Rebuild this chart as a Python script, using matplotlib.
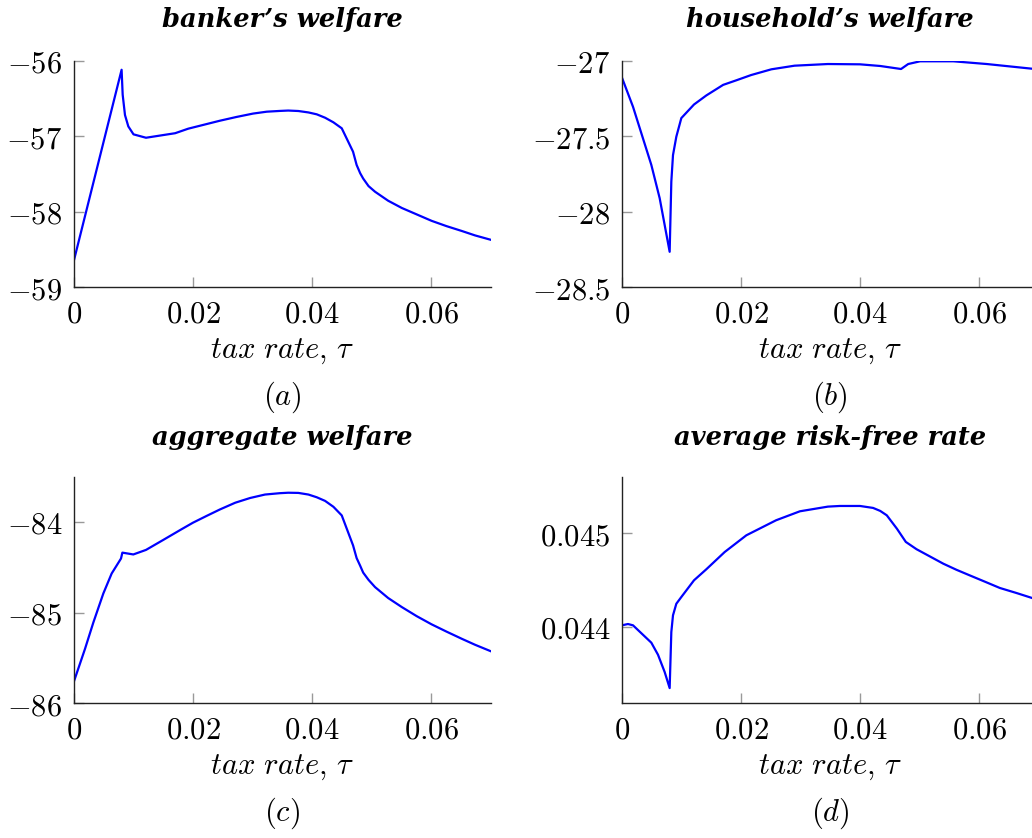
import matplotlib
matplotlib.use("Agg")
import matplotlib.pyplot as plt

plt.rcParams['mathtext.fontset'] = 'cm'
plt.rcParams['font.family'] = ['DejaVu Serif']

# ---------------- data ----------------
titles = ["banker\u2019s welfare", "household\u2019s welfare",
          "aggregate welfare", "average risk-free rate"]
panel_labels = [r"$(a)$", r"$(b)$", r"$(c)$", r"$(d)$"]
x_label = r"$tax\ rate,\,\tau$"

x_ticks = [0, 0.02, 0.04, 0.06]
x_tick_labels = [r"$0$", r"$0.02$", r"$0.04$", r"$0.06$"]

tau_a = [0.0, 0.002, 0.004, 0.006, 0.0080, 0.00818, 0.00857, 0.00913, 0.0100, 0.0121,
         0.0170, 0.0192, 0.0245, 0.0273, 0.0301, 0.0324, 0.0346, 0.0360, 0.0377, 0.0394,
         0.0408, 0.0422, 0.0436, 0.0450, 0.0469, 0.0475, 0.0481, 0.0486, 0.0495, 0.0506,
         0.0528, 0.0551, 0.0576, 0.0601, 0.0626, 0.0652, 0.0674, 0.0700]
banker = [-58.64, -58.01, -57.38, -56.75, -56.12, -56.45, -56.72, -56.87, -56.975, -57.02,
          -56.96, -56.90, -56.795, -56.745, -56.70, -56.675, -56.665, -56.66, -56.666, -56.685,
          -56.71, -56.755, -56.816, -56.895, -57.205, -57.38, -57.49, -57.56, -57.66, -57.735,
          -57.854, -57.95, -58.035, -58.12, -58.19, -58.255, -58.313, -58.37]
yticks_a = [-59, -58, -57, -56]
ylabels_a = [r"$-59$", r"$-58$", r"$-57$", r"$-56$"]

tau_b = [0.0, 0.00185, 0.00493, 0.00633, 0.00801, 0.00829, 0.00857, 0.00913, 0.00997,
         0.0121, 0.01417, 0.0170, 0.0192, 0.0217, 0.0251, 0.0290, 0.0346, 0.0400,
         0.0434, 0.0469, 0.0481, 0.0501, 0.0557, 0.0613, 0.0689, 0.0700]
household = [-27.113, -27.305, -27.69, -27.91, -28.265, -27.80, -27.625, -27.503, -27.38,
             -27.29, -27.23, -27.16, -27.13, -27.095, -27.057, -27.033, -27.022, -27.024,
             -27.035, -27.055, -27.022, -27.004, -27.004, -27.022, -27.053, -27.057]
yticks_b = [-28.5, -28, -27.5, -27]
ylabels_b = [r"$-28.5$", r"$-28$", r"$-27.5$", r"$-27$"]

tau_c = [0.0, 0.00185, 0.00325, 0.00493, 0.00633, 0.0079, 0.00813, 0.00997, 0.0121, 0.0150,
         0.0180, 0.0200, 0.0223, 0.0245, 0.0271, 0.0296, 0.0321, 0.0346, 0.0360, 0.0377,
         0.0394, 0.0408, 0.0422, 0.0436, 0.0450, 0.0469, 0.0475, 0.0481, 0.0486, 0.0495,
         0.0506, 0.0528, 0.0551, 0.0576, 0.0601, 0.0626, 0.0652, 0.0674, 0.0700]
aggregate = [-85.757, -85.40, -85.11, -84.79, -84.57, -84.405, -84.34, -84.36, -84.31, -84.20,
             -84.085, -84.01, -83.935, -83.865, -83.79, -83.738, -83.70, -83.685, -83.68, -83.682,
             -83.70, -83.73, -83.77, -83.835, -83.93, -84.26, -84.40, -84.485, -84.56, -84.64,
             -84.72, -84.84, -84.94, -85.04, -85.13, -85.21, -85.29, -85.355, -85.425]
yticks_c = [-86, -85, -84]
ylabels_c = [r"$-86$", r"$-85$", r"$-84$"]

tau_d = [0.0, 0.001, 0.00185, 0.00493, 0.00605, 0.00717, 0.00801, 0.00829, 0.00857,
         0.00913, 0.00997, 0.0121, 0.01417, 0.01726, 0.0209, 0.0259, 0.0299, 0.0346,
         0.0366, 0.0400, 0.0422, 0.0434, 0.0445, 0.0462, 0.0477, 0.0495, 0.0540, 0.0562,
         0.0584, 0.0610, 0.0635, 0.0663, 0.0689, 0.0700]
riskfree = [0.044015, 0.044029, 0.044015, 0.043829, 0.0437, 0.043515, 0.043343, 0.043943,
            0.044122, 0.044246, 0.044318, 0.044497, 0.044615, 0.0448, 0.044979, 0.04514,
            0.045236, 0.045286, 0.045293, 0.045293, 0.045272, 0.04524, 0.045193, 0.04505,
            0.044908, 0.04483, 0.044675, 0.04461, 0.044551, 0.044482, 0.044415, 0.044361,
            0.044308, 0.04428]
yticks_d = [0.044, 0.045]
ylabels_d = [r"$0.044$", r"$0.045$"]

panels = [
    (tau_a, banker, (-59, -56), yticks_a, ylabels_a),
    (tau_b, household, (-28.5, -27), yticks_b, ylabels_b),
    (tau_c, aggregate, (-86, -83.51), yticks_c, ylabels_c),
    (tau_d, riskfree, (0.04318, 0.0456), yticks_d, ylabels_d),
]

# ---------------- layout ----------------
W, H = 1032, 838
fig = plt.figure(figsize=(W / 100, H / 100), dpi=100)
fig.patch.set_facecolor("white")

ax_w = 416.5
lefts = [74, 622, 74, 622]
tops = [60.7, 60.7, 477.3, 477.3]
bottoms = [287.3, 287.3, 703.3, 703.3]
title_y = [20, 20, 437, 437]
label_y = [397, 397, 813, 813]
xlabel_y = [350, 350, 766, 766]

for i, (xs, ys, ylim, yt, yl) in enumerate(panels):
    l, t, b = lefts[i], tops[i], bottoms[i]
    ax = fig.add_axes([l / W, 1 - b / H, ax_w / W, (b - t) / H])
    ax.plot(xs, ys, color=(0, 0, 1), lw=1.6, solid_joinstyle="round")
    ax.set_xlim(0, 0.07)
    ax.set_ylim(*ylim)
    for s in ["top", "right"]:
        ax.spines[s].set_visible(False)
    for s in ["left", "bottom"]:
        ax.spines[s].set_linewidth(1.0)
        ax.spines[s].set_color("#222222")
    ax.set_xticks(x_ticks)
    ax.set_xticklabels(x_tick_labels)
    ax.set_yticks(yt)
    ax.set_yticklabels(yl)
    ax.tick_params(axis="both", direction="in", length=7.5, width=1.0,
                   color="#999999", labelsize=22)
    ax.tick_params(axis="x", pad=8)
    ax.tick_params(axis="y", pad=8.5)
    cx = (l + ax_w / 2) / W
    fig.text(cx, 1 - title_y[i] / H, titles[i], ha="center", va="center",
             fontsize=18.5, fontstyle="italic", fontweight="bold",
             family="DejaVu Serif")
    fig.text(cx, 1 - xlabel_y[i] / H, x_label, ha="center", va="center", fontsize=22)
    fig.text(cx, 1 - label_y[i] / H, panel_labels[i], ha="center", va="center", fontsize=22)

fig.savefig("out.png", dpi=100, facecolor="white")
